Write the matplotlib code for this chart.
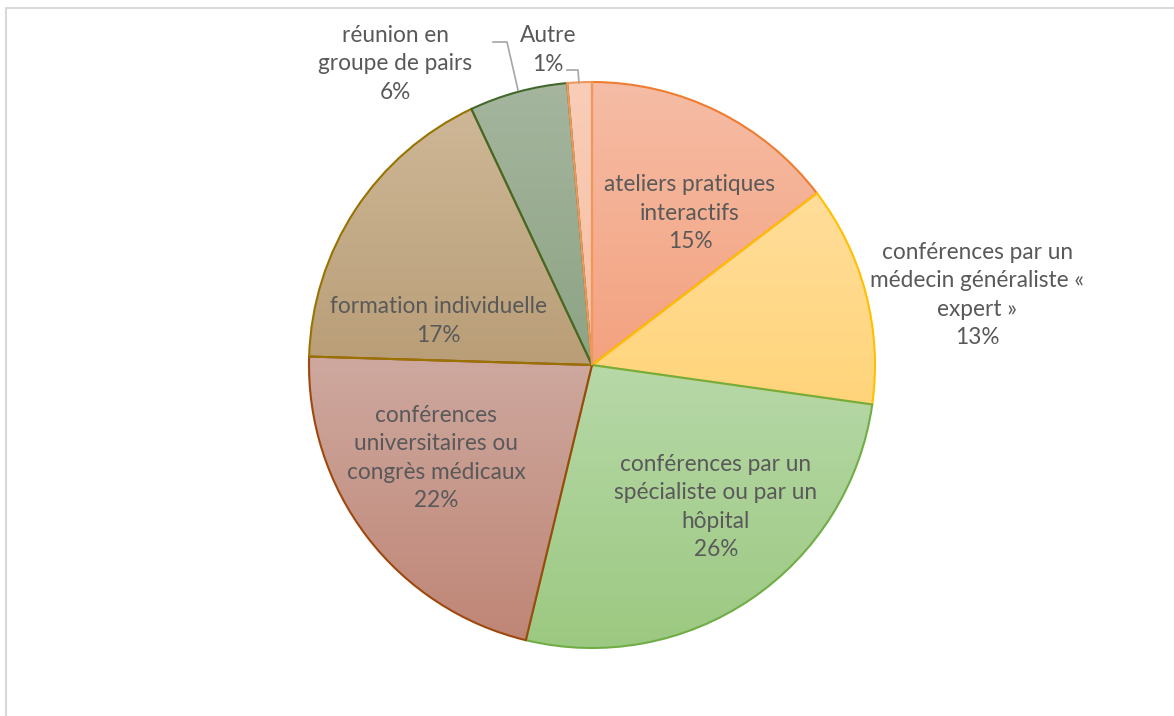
import numpy as np
import matplotlib.pyplot as plt
from matplotlib.colors import LinearSegmentedColormap

# données (parts estimées sur le graphique, sens horaire depuis midi)
labels = ["ateliers pratiques\ninteractifs",
          "conférences par un\nmédecin généraliste «\nexpert »",
          "conférences par un\nspécialiste ou par un\nhôpital",
          "conférences\nuniversitaires ou\ncongrès médicaux",
          "formation individuelle",
          "réunion en\ngroupe de pairs",
          "Autre"]
values = [14.6, 12.6, 26.5, 21.7, 17.5, 5.6, 1.4]
pct_text = ["15%", "13%", "26%", "22%", "17%", "6%", "1%"]

# couleurs (haut, bas du dégradé) et bordure
top_colors = ["#F6BCA5", "#FFDD9A", "#B7D8A8", "#CEA89F", "#CEB797", "#A5B59E", "#F9CDB8"]
bot_colors = ["#F3A27F", "#FFD47A", "#9CC981", "#BF8676", "#B99E77", "#8DA484", "#F6BFA2"]
edge_colors = ["#ED7D31", "#FFC000", "#70AD47", "#9E480E", "#997300", "#43682B", "#F1975A"]

# positions des étiquettes (pixels de l'image)
label_pos = [(690, 213), (977, 295), (716, 507), (436, 458), (438, 321), (395, 64), (548, 50)]

W, H = 1174, 716
cx, cy, R = 592, 365, 283

plt.rcParams['font.family'] = ['Lato', 'DejaVu Sans']
fig = plt.figure(figsize=(W / 100, H / 100), dpi=100)
ax = fig.add_axes([0, 0, 1, 1])

wedges, _ = ax.pie(values, center=(cx, H - cy), radius=R, startangle=90,
                   counterclock=False, frame=True,
                   wedgeprops=dict(linewidth=1.5, facecolor='none'))

# dégradé vertical dans chaque part
for w, c1, c2, ec in zip(wedges, top_colors, bot_colors, edge_colors):
    w.set_edgecolor(ec)
    w.set_zorder(3)
    ext = w.get_path().get_extents()
    cmap = LinearSegmentedColormap.from_list("g", [c2, c1])
    grad = np.linspace(0, 1, 256).reshape(-1, 1)
    im = ax.imshow(grad, cmap=cmap, origin='lower', aspect='auto',
                   extent=(ext.x0, ext.x1, ext.y0, ext.y1), zorder=2)
    im.set_clip_path(w)

ax.set_xlim(0, W)
ax.set_ylim(0, H)
ax.axis('off')

for lab, pct, (x, y) in zip(labels, pct_text, label_pos):
    ax.text(x, H - y, lab + "\n" + pct, ha='center', va='center',
            fontsize=16.3, color='#595959', linespacing=1.45, zorder=5)

# traits de rappel
ax.plot([493, 507, 518], [H - 42, H - 42, H - 90], color='#A6A6A6', lw=1.2, zorder=4)
ax.plot([567, 578, 579], [H - 70, H - 70, H - 83], color='#A6A6A6', lw=1.2, zorder=4)

# cadre (haut et gauche visibles)
ax.plot([6, 6, W], [0, H - 8, H - 8], color='#D9D9D9', lw=1.5, zorder=1)

fig.savefig("out.png", dpi=100)
